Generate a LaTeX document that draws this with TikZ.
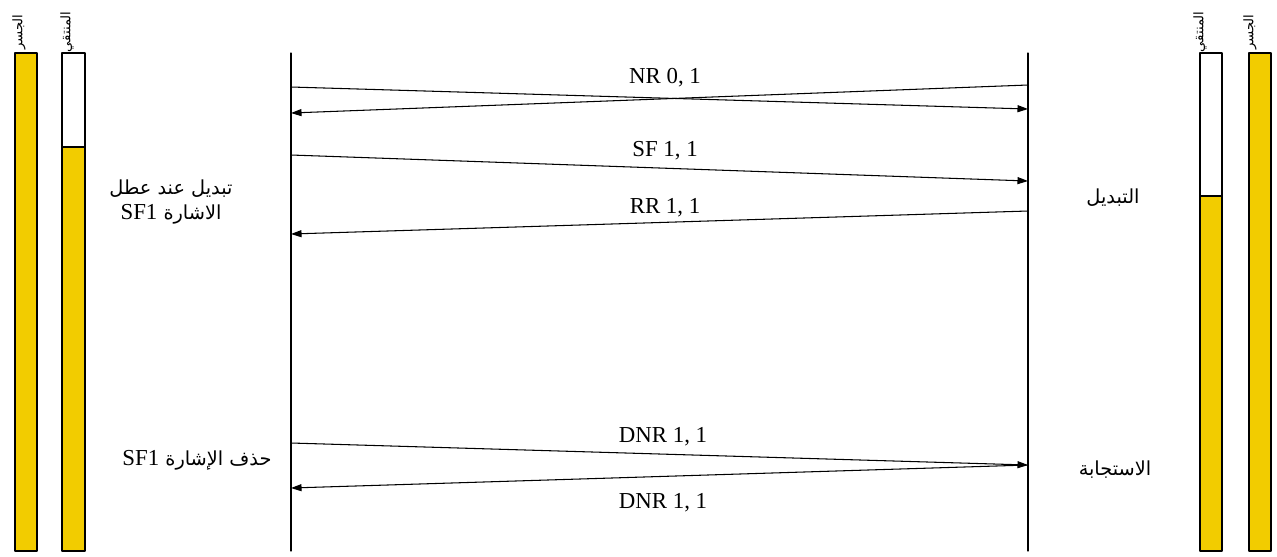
\documentclass[tikz,border=0pt]{standalone}
\usepackage{fontspec}
\setmainfont{Liberation Serif}
\newfontfamily\arabicfont[Script=Arabic]{DejaVu Sans}
\newfontfamily\latinfont{Liberation Serif}
\TeXXeTstate=1
\usepackage{xcolor}
\usetikzlibrary{arrows.meta}
\definecolor{barfill}{RGB}{242,204,0}
\newcommand{\sfone}{{\latinfont\fontsize{13}{15}\selectfont SF1}}

\begin{document}
\begin{tikzpicture}[x=0.02cm,y=-0.02cm,line cap=round,line join=round,
  bar/.style={draw=black,line width=0.7pt},
  msg/.style={-{Triangle[length=6pt,width=4pt]},line width=0.6pt},
  lbl/.style={font=\fontsize{13}{15}\selectfont},
  artext/.style={font=\arabicfont\fontsize{11}{14.5}\selectfont,align=center},
  vlabel/.style={font=\arabicfont\fontsize{7.5}{8}\selectfont,rotate=90}]

\useasboundingbox (0,0) rectangle (1277,556);

% bars, left side
\filldraw [bar,fill=barfill] (15,53) rectangle (37,551);
\fill [barfill] (62,147) rectangle (85,551);
\draw [bar] (62,53) rectangle (85,551) (62,147) -- (85,147);
\node [vlabel] (bridgeL) at (19,32) {\beginR الجسر\endR};
\node [vlabel] (selectL) at (67,32) {\beginR المنتقي\endR};

% bars, right side
\fill [barfill] (1200,196) rectangle (1222,551);
\draw [bar] (1200,53) rectangle (1222,551) (1200,196) -- (1222,196);
\filldraw [bar,fill=barfill] (1249,53) rectangle (1271,551);
\node [vlabel] (selectR) at (1200,32) {\beginR المنتقي\endR};
\node [vlabel] (bridgeR) at (1250,32) {\beginR الجسر\endR};

% lifelines
\coordinate (Ltop) at (291,53);
\coordinate (Lbot) at (291,551);
\coordinate (Rtop) at (1028,53);
\coordinate (Rbot) at (1028,551);
\draw [line width=0.6pt] (Ltop) -- (Lbot);
\draw [line width=0.6pt] (Rtop) -- (Rbot);

% message ends
\coordinate (nrL1) at (291,87);   \coordinate (nrR1) at (1028,109);
\coordinate (nrR2) at (1028,85);  \coordinate (nrL2) at (291,113);
\coordinate (sfL) at (291,155);   \coordinate (sfR) at (1028,181);
\coordinate (rrR) at (1028,211);  \coordinate (rrL) at (291,234);
\coordinate (dnL1) at (291,443);  \coordinate (dnR) at (1028,465);
\coordinate (dnL2) at (291,488);

\draw [msg] (nrL1) -- (nrR1);
\draw [msg] (nrR2) -- (nrL2);
\draw [msg] (sfL) -- (sfR);
\draw [msg] (rrR) -- (rrL);
\draw [msg] (dnL1) -- (dnR);
\draw [msg] (dnR) -- (dnL2);

\node [lbl] (nr) at (665,78) {NR 0, 1};
\node [lbl] (sf) at (665,151) {SF 1, 1};
\node [lbl] (rr) at (665,208) {RR 1, 1};
\node [lbl] (dnr1) at (663,437) {DNR 1, 1};
\node [lbl] (dnr2) at (663,503) {DNR 1, 1};

% notes
\node [artext] (swfail) at (171,202) {\beginR تبديل عند عطل\endR\\\beginR الاشارة \beginL\sfone\endL\endR};
\node [artext] (clear) at (197,460) {\beginR حذف الإشارة \beginL\sfone\endL\endR};
\node [artext] (switch) at (1113,198) {\beginR التبديل\endR};
\node [artext] (resp) at (1115,470) {\beginR الاستجابة\endR};
\end{tikzpicture}
\end{document}
